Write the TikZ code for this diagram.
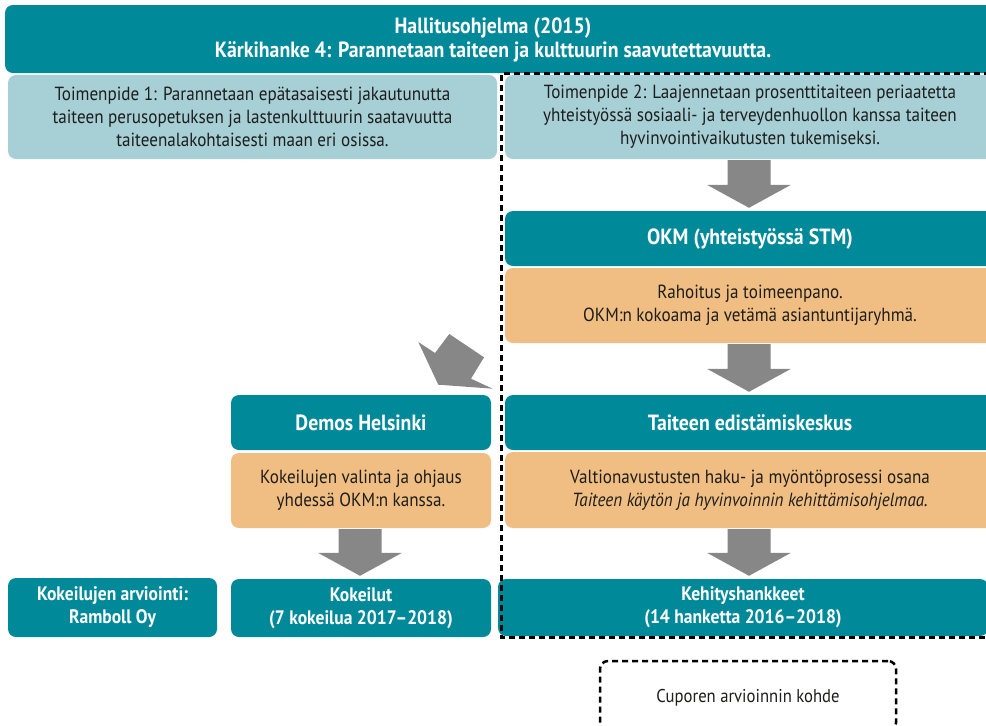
\documentclass[tikz,border=0pt]{standalone}
\usepackage{fontspec}
\setmainfont{PT Sans}[FakeStretch=0.9]
\usetikzlibrary{calc}
\definecolor{teal}{HTML}{008A99}
\definecolor{lblue}{HTML}{A7CFD6}
\definecolor{orng}{HTML}{F0BE82}
\definecolor{agray}{HTML}{878787}
\definecolor{ink}{HTML}{1D1D1B}
\tikzset{
  box/.style={rounded corners=8pt, inner sep=0pt, align=center, font=\fontsize{19}{23}\selectfont, text=ink},
  tealbox/.style={box, fill=teal, text=white, font=\bfseries\fontsize{19.5}{23}\selectfont},
  headbox/.style={tealbox, font=\bfseries\fontsize{22}{25}\selectfont},
  bluebox/.style={box, fill=lblue},
  orbox/.style={box, fill=orng},
  frame/.style={draw=black, line width=2.5pt, dash pattern=on 6pt off 4pt},
  arr/.style={fill=agray}
}
\newcommand\grayarrow[3]{% from node, to node, x centre
  \fill[arr] let \p1=(#1.south), \p2=(#2.north) in
    (#3-21.5pt,\y1-1pt) -- (#3+21.5pt,\y1-1pt) -- (#3+21.5pt,\y2+26pt) --
    (#3+42pt,\y2+26pt) -- (#3,\y2+3pt) -- (#3-42pt,\y2+26pt) --
    (#3-21.5pt,\y2+26pt) -- cycle;}
\begin{document}
\begin{tikzpicture}[x=1pt,y=-1pt]
\useasboundingbox (0,0) rectangle (986,726);
\clip (0,0) rectangle (986,726);
% top
\node[tealbox, minimum width=990pt, minimum height=68pt] (top) at (500,39) {};
\node[tealbox, font=\bfseries\fontsize{22}{24.5}\selectfont] (toptext) at (493,40)
  {Hallitusohjelma (2015)\\Kärkihanke 4: Parannetaan taiteen ja kulttuurin saavutettavuutta.};
\node[bluebox, minimum width=489pt, minimum height=84pt] (t1) at (252.5,117)
  {Toimenpide 1: Parannetaan epätasaisesti jakautunutta\\taiteen perusopetuksen ja lastenkulttuurin saatavuutta\\taiteenalakohtaisesti maan eri osissa.};
\node[bluebox, minimum width=490pt, minimum height=84pt] (t2) at (750,117)
  {Toimenpide 2: Laajennetaan prosenttitaiteen periaatetta\\yhteistyössä sosiaali- ja terveydenhuollon kanssa taiteen\\hyvinvointivaikutusten tukemiseksi.};
% right column
\node[headbox, minimum width=490pt, minimum height=55pt] (okm) at (750,238.5) {OKM (yhteistyössä STM)};
\node[orbox, minimum width=490pt, minimum height=75pt] (rah) at (750,305.5)
  {Rahoitus ja toimeenpano.\\OKM:n kokoama ja vetämä asiantuntijaryhmä.};
\node[headbox, minimum width=490pt, minimum height=55pt] (tek) at (750,422.5) {Taiteen edistämiskeskus};
\node[orbox, minimum width=490pt, minimum height=76pt] (val) at (750,490)
  {Valtionavustusten haku- ja myöntöprosessi osana\\\textit{Taiteen käytön ja hyvinvoinnin kehittämisohjelmaa.}};
\node[tealbox, minimum width=490pt, minimum height=57pt] (keh) at (743,607.5)
  {Kehityshankkeet\\(14 hanketta 2016--2018)};
% left column
\node[headbox, minimum width=260pt, minimum height=55pt] (demos) at (361,422.5) {Demos Helsinki};
\node[orbox, minimum width=260pt, minimum height=75pt] (kok) at (361,490.5)
  {Kokeilujen valinta ja ohjaus\\yhdessä OKM:n kanssa.};
\node[tealbox, minimum width=260pt, minimum height=58pt] (kokeilut) at (361,608)
  {Kokeilut\\(7 kokeilua 2017--2018)};
\node[tealbox, minimum width=209pt, minimum height=59pt] (arv) at (112.5,607.5)
  {Kokeilujen arviointi:\\Ramboll Oy};
% arrows
\grayarrow{t2}{okm}{749pt}
\grayarrow{rah}{tek}{749pt}
\grayarrow{val}{keh}{749pt}
\grayarrow{kok}{kokeilut}{360pt}
\fill[arr] (418.3,342) -- (435,353) -- (449.3,334) -- (484,357.3) -- (471,378.7) -- (492.7,388.7) -- (438.3,384.7) -- cycle;
% dashed frames
\draw[frame] (1000,73.5) -- (501.5,73.5) -- (501.5,637.5) -- (1000,637.5);
\node[box, frame, fill=white, minimum width=296pt, minimum height=70pt] (cup) at (748,696) {};
\node[box, font=\fontsize{18.5}{22}\selectfont] (cuptext) at (cup.center) [yshift=-2pt] {Cuporen arvioinnin kohde};
\end{tikzpicture}
\end{document}
